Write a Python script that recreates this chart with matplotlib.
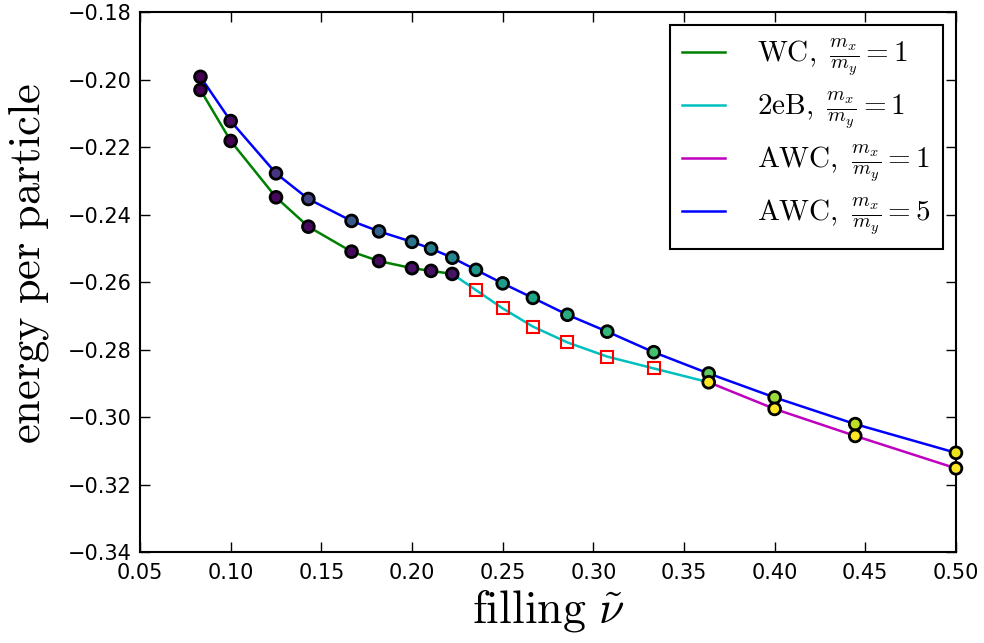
import numpy as np
import matplotlib
matplotlib.use('Agg')
import matplotlib.pyplot as plt

plt.rcParams['mathtext.fontset'] = 'cm'
plt.rcParams['xtick.direction'] = 'in'
plt.rcParams['ytick.direction'] = 'in'

# filling fractions
nu_wc = [1/12, 1/10, 1/8, 1/7, 1/6, 2/11, 1/5, 4/19, 2/9]
e_wc = [-0.2031, -0.2182, -0.2349, -0.2436, -0.2510, -0.2538, -0.2559, -0.2567, -0.2576]
c_wc = [0.0, 0.0, 0.02, 0.02, 0.03, 0.03, 0.04, 0.04, 0.05]

nu_2eb = [4/17, 1/4, 4/15, 2/7, 4/13, 1/3]
e_2eb = [-0.2624, -0.2678, -0.2732, -0.2779, -0.2821, -0.2856]

nu_awc1 = [4/11, 2/5, 4/9, 1/2]
e_awc1 = [-0.2897, -0.2976, -0.3056, -0.3152]
c_awc1 = [1.0, 1.0, 1.0, 1.0]

nu_awc5 = [1/12, 1/10, 1/8, 1/7, 1/6, 2/11, 1/5, 4/19, 2/9, 4/17, 1/4, 4/15,
           2/7, 4/13, 1/3, 4/11, 2/5, 4/9, 1/2]
e_awc5 = [-0.1992, -0.2123, -0.2278, -0.2354, -0.2419, -0.2450, -0.2481, -0.2501,
          -0.2528, -0.2564, -0.2604, -0.2647, -0.2697, -0.2747, -0.2808, -0.2871,
          -0.2942, -0.3021, -0.3106]
c_awc5 = [0.0, 0.03, 0.15, 0.2, 0.27, 0.32, 0.38, 0.42, 0.46, 0.52, 0.55, 0.58,
          0.62, 0.66, 0.7, 0.75, 0.85, 0.9, 0.97]

fig = plt.figure(figsize=(9.84, 6.43), dpi=100)
ax = fig.add_axes([0.1423, 0.1415, 0.8292, 0.8398])

# cyan segment joins the last WC point, the 2eB points and the first AWC point
cyan_x = [nu_wc[-1]] + nu_2eb + [nu_awc1[0]]
cyan_y = [e_wc[-1]] + e_2eb + [e_awc1[0]]

lw = 1.8
ax.plot(nu_wc, e_wc, color='g', lw=lw, label=r'$\mathrm{WC},\ \frac{m_x}{m_y}=1$', zorder=2)
ax.plot(cyan_x, cyan_y, color='c', lw=lw, label=r'$\mathrm{2eB},\ \frac{m_x}{m_y}=1$', zorder=2)
ax.plot(nu_awc1, e_awc1, color='m', lw=lw, label=r'$\mathrm{AWC},\ \frac{m_x}{m_y}=1$', zorder=2)
ax.plot(nu_awc5, e_awc5, color='b', lw=lw, label=r'$\mathrm{AWC},\ \frac{m_x}{m_y}=5$', zorder=2)

cmap = plt.get_cmap('viridis')
for xs, ys, cs in [(nu_wc, e_wc, c_wc), (nu_awc5, e_awc5, c_awc5), (nu_awc1, e_awc1, c_awc1)]:
    ax.scatter(xs, ys, c=cs, cmap=cmap, vmin=0, vmax=1, s=72, edgecolors='k',
               linewidths=2, zorder=3, clip_on=False)

ax.plot(nu_2eb, e_2eb, ls='none', marker='s', ms=9, mfc='none', mec='r', mew=1.5, zorder=3)

ax.set_xlim(0.05, 0.50)
ax.set_ylim(-0.34, -0.18)
ax.set_xticks(np.arange(0.05, 0.501, 0.05))
ax.set_yticks(np.arange(-0.34, -0.179, 0.02))
ax.tick_params(labelsize=15, length=7, width=1, top=True, right=True, pad=6)
ax.tick_params(axis='x', pad=8)
for sp in ax.spines.values():
    sp.set_linewidth(1.5)

ax.set_xlabel(r'$\mathrm{filling}\ \tilde{\nu}$', fontsize=33, labelpad=3)
ax.set_ylabel(r'$\mathrm{energy\ per\ particle}$', fontsize=32, labelpad=12)
ax.yaxis.label.set_y(0.535)

leg = ax.legend(loc='upper right', fontsize=21, fancybox=False, framealpha=1,
                edgecolor='k', borderpad=0.4, labelspacing=0.4, handlelength=1.5,
                handletextpad=1.1, borderaxespad=0.45)
leg.get_frame().set_linewidth(1.5)

fig.savefig('out.png', dpi=100, facecolor='white')
